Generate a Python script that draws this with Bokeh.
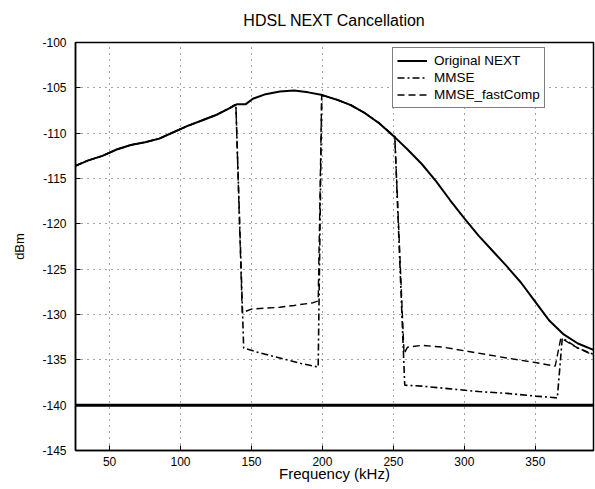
from bokeh.plotting import figure
from bokeh.models import Range1d, Legend, LegendItem, FixedTicker, PrintfTickFormatter
from bokeh.embed import file_html
from bokeh.resources import INLINE

# ---- data ----
orig_f = [26, 35, 45, 55, 65, 75, 85, 95, 105, 115, 125, 135, 140, 146, 151, 160,
          170, 180, 190, 200, 210, 220, 230, 240, 250, 260, 270, 280, 290, 300,
          310, 320, 330, 340, 350, 360, 370, 380, 391]
orig_db = [-113.6, -113.0, -112.5, -111.8, -111.3, -111.0, -110.6, -109.9, -109.2,
           -108.6, -108.0, -107.2, -106.8, -106.8, -106.2, -105.7, -105.4, -105.3,
           -105.5, -105.8, -106.3, -106.9, -107.8, -108.9, -110.3, -111.8, -113.4,
           -115.3, -117.4, -119.4, -121.3, -123.0, -124.7, -126.5, -128.6, -130.7,
           -132.2, -133.2, -133.9]

mmse_f = [26, 35, 45, 55, 65, 75, 85, 95, 105, 115, 125, 135, 139, 144.5, 155, 165,
          175, 185, 197, 199.5, 210, 220, 230, 240, 251, 258, 270, 290, 310, 330,
          350, 365.5, 369, 380, 391]
mmse_db = [-113.6, -113.0, -112.5, -111.8, -111.3, -111.0, -110.6, -109.9, -109.2,
           -108.6, -108.0, -107.2, -106.8, -133.7, -134.2, -134.6, -135.0, -135.4,
           -135.8, -105.8, -106.3, -106.9, -107.8, -108.9, -110.4, -137.8, -137.9,
           -138.2, -138.5, -138.7, -139.0, -139.2, -132.6, -133.7, -134.4]

fast_f = [26, 35, 45, 55, 65, 75, 85, 95, 105, 115, 125, 135, 139, 143.5, 150, 160,
          170, 180, 193.5, 197, 199.5, 210, 220, 230, 240, 251, 257.5, 260, 270,
          285, 300, 315, 330, 350, 364, 368, 380, 391]
fast_db = [-113.6, -113.0, -112.5, -111.8, -111.3, -111.0, -110.6, -109.9, -109.2,
           -108.6, -108.0, -107.2, -106.8, -129.8, -129.4, -129.3, -129.2, -129.0,
           -128.7, -128.5, -105.8, -106.3, -106.9, -107.8, -108.9, -110.4, -134.3,
           -133.6, -133.4, -133.6, -134.0, -134.4, -134.8, -135.3, -135.7, -132.6,
           -133.7, -134.5]

floor_f = [26, 391]
floor_db = [-140, -140]

x_ticks = [50, 100, 150, 200, 250, 300, 350]
y_ticks = [-145, -140, -135, -130, -125, -120, -115, -110, -105, -100]

labels = ["Original NEXT", "MMSE", "MMSE_fastComp"]

FONT = "Liberation Sans"

p = figure(width=595, height=489, output_backend="svg", toolbar_location=None,
           x_range=Range1d(26, 391), y_range=Range1d(-145, -100),
           min_border_left=75, min_border_right=2, min_border_top=42,
           min_border_bottom=39, title="HDSL NEXT Cancellation")

p.title.align = "center"
p.title.vertical_align = "top"
p.title.text_font = FONT
p.title.text_font_size = "16px"
p.title.text_font_style = "normal"
p.title.text_color = "black"
p.title.standoff = 23

p.background_fill_color = "white"
p.border_fill_color = "white"
p.outline_line_color = "black"
p.outline_line_width = 1.5

for ax in (p.xaxis[0], p.yaxis[0]):
    ax.major_tick_in = 5
    ax.major_tick_out = 0
    ax.minor_tick_in = 0
    ax.minor_tick_out = 0
    ax.axis_line_color = "black"
    ax.axis_line_width = 1.5
    ax.major_tick_line_color = "black"
    ax.major_label_text_font = FONT
    ax.major_label_text_font_size = "12px"
    ax.major_label_text_color = "black"
    ax.axis_label_text_font = FONT
    ax.axis_label_text_font_style = "normal"
    ax.axis_label_text_color = "black"
    ax.formatter = PrintfTickFormatter(format="%d")

p.xaxis[0].ticker = FixedTicker(ticks=x_ticks)
p.yaxis[0].ticker = FixedTicker(ticks=y_ticks)
p.xaxis[0].axis_label = "Frequency (kHz)"
p.yaxis[0].axis_label = "dBm"
p.xaxis[0].axis_label_text_font_size = "15px"
p.yaxis[0].axis_label_text_font_size = "13px"
p.xaxis[0].major_label_standoff = 6
p.xaxis[0].axis_label_standoff = -4
p.yaxis[0].major_label_standoff = 9
p.yaxis[0].axis_label_standoff = 12

p.xgrid.ticker = FixedTicker(ticks=x_ticks)
p.ygrid.ticker = FixedTicker(ticks=y_ticks)
for g in (p.xgrid[0], p.ygrid[0]):
    g.grid_line_color = "black"
    g.grid_line_alpha = 0.7
    g.grid_line_dash = "1 5"
    g.grid_line_width = 1

p.line(floor_f, floor_db, line_color="black", line_width=3)
r3 = p.line(fast_f, fast_db, line_color="black", line_width=1.4, line_dash="7 4")
r2 = p.line(mmse_f, mmse_db, line_color="black", line_width=1.6, line_dash="7 3 2 3")
r1 = p.line(orig_f, orig_db, line_color="black", line_width=2)

legend = Legend(items=[LegendItem(label=labels[0], renderers=[r1]),
                       LegendItem(label=labels[1], renderers=[r2]),
                       LegendItem(label=labels[2], renderers=[r3])],
                location=(317, 342))
legend.border_line_color = "black"
legend.border_line_width = 1
legend.background_fill_color = "white"
legend.background_fill_alpha = 1
legend.label_text_font = FONT
legend.label_text_font_size = "13.5px"
legend.label_text_color = "black"
legend.glyph_width = 30
legend.glyph_height = 17
legend.label_height = 17
legend.label_standoff = 7
legend.padding = 4
legend.spacing = 0
legend.margin = 0
p.add_layout(legend, "center")

open("out.html", "w").write(file_html(p, INLINE))
